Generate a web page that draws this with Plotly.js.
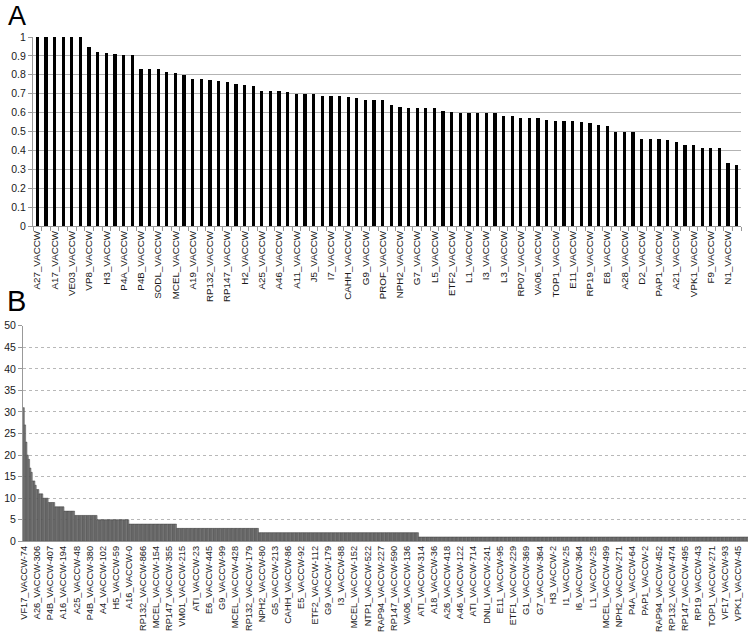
<!DOCTYPE html>
<html>
<head>
<meta charset="utf-8">
<script src="https://cdn.plot.ly/plotly-3.0.1.min.js"></script>
<style>html,body{margin:0;padding:0;background:#fff;}#chart{width:751px;height:635px;}</style>
</head>
<body>
<div id="chart"></div>
<script>
// Panel A: labels shown on every other bar
const labelsA = ["A27_VACCW","A17_VACCW","VE03_VACCW","VP8_VACCW","H3_VACCW","P4A_VACCW","P4B_VACCW","SODL_VACCW","MCEL_VACCW","A19_VACCW","RP132_VACCW","RP147_VACCW","H2_VACCW","A25_VACCW","A46_VACCW","A11_VACCW","J5_VACCW","I7_VACCW","CAHH_VACCW","G9_VACCW","PROF_VACCW","NPH2_VACCW","G7_VACCW","L5_VACCW","ETF2_VACCW","L1_VACCW","I3_VACCW","L3_VACCW","RP07_VACCW","VA06_VACCW","TOP1_VACCW","E11_VACCW","RP19_VACCW","E8_VACCW","A28_VACCW","D2_VACCW","PAP1_VACCW","A21_VACCW","VPK1_VACCW","F9_VACCW","N1_VACCW"];
const valuesA = [1,1,1,1,1,1,0.947,0.922,0.914,0.910,0.907,0.905,
  0.833,0.833,0.833,0.813,0.810,0.798,0.776,0.776,0.771,0.769,0.762,0.750,0.748,0.739,
  0.715,0.715,0.715,0.708,0.699,0.699,0.697,0.690,0.688,0.687,0.680,0.676,0.665,0.665,0.665,
  0.641,0.630,0.623,0.623,0.623,0.623,0.607,0.604,0.597,0.597,0.597,0.597,0.597,
  0.583,0.583,0.570,0.570,0.570,0.563,0.558,0.555,0.555,0.548,0.544,0.535,0.528,
  0.498,0.498,0.498,0.460,0.460,0.460,0.456,0.442,0.428,0.428,0.415,0.415,0.412,0.331,0.324];

// Panel B: labels shown on every 10th bar
const labelsB = ["VF17_VACCW-74","A26_VACCW-306","P4B_VACCW-407","A16_VACCW-194","A25_VACCW-48","P4B_VACCW-380","A4_VACCW-102","H5_VACCW-59","A16_VACCW-0","RP132_VACCW-866","MCEL_VACCW-154","RP147_VACCW-355","VM01_VACCW-215","ATI_VACCW-23","E6_VACCW-445","G9_VACCW-99","MCEL_VACCW-428","RP132_VACCW-179","NPH2_VACCW-80","G5_VACCW-213","CAHH_VACCW-86","E5_VACCW-92","ETF2_VACCW-112","G9_VACCW-179","I3_VACCW-88","MCEL_VACCW-152","NTP1_VACCW-522","RAP94_VACCW-227","RP147_VACCW-590","VA06_VACCW-136","ATI_VACCW-314","A18_VACCW-36","A26_VACCW-418","A46_VACCW-122","ATI_VACCW-714","DNLI_VACCW-241","E11_VACCW-95","ETF1_VACCW-229","G1_VACCW-369","G7_VACCW-364","H3_VACCW-2","I1_VACCW-25","I6_VACCW-364","L1_VACCW-25","MCEL_VACCW-499","NPH2_VACCW-271","P4A_VACCW-64","PAP1_VACCW-2","RAP94_VACCW-452","RP132_VACCW-474","RP147_VACCW-495","RP19_VACCW-43","TOP1_VACCW-271","VF17_VACCW-93","VPK1_VACCW-45"];
// values of B read as runs of equal bars (value, number of bars)
const levelsB = [31,27,23,20,19,17,16,14,13,12,11,10,9,8,7,6,5,4,3,2,1];
const runsB   = [1,1,1,1,1,1,1,2,1,2,3,4,5,7,8,17,24,36,62,121,249];
const labelStepB = 10;

const valuesB = [];
levelsB.forEach((v, k) => { for (let j = 0; j < runsB[k]; j++) valuesB.push(v); });
const xA = valuesA.map((_, i) => i);
const xB = valuesB.map((_, i) => i);
const tickA = labelsA.map((_, i) => i * 2);
const tickB = labelsB.map((_, i) => i * labelStepB);

const W = 751, H = 635;
const font = "Liberation Sans, Arial, sans-serif";

const traces = [
  {type: 'bar', x: xA, y: valuesA, xaxis: 'x', yaxis: 'y', width: 0.38,
   marker: {color: '#000000', line: {width: 0}}, hoverinfo: 'none'},
  {type: 'bar', x: xB, y: valuesB, xaxis: 'x2', yaxis: 'y2', width: 1,
   marker: {color: '#8f8f8f', line: {color: '#2e2e2e', width: 0.45}}, hoverinfo: 'none'}
];

const layout = {
  width: W, height: H,
  margin: {l: 0, r: 0, t: 0, b: 0},
  paper_bgcolor: '#ffffff', plot_bgcolor: '#ffffff',
  showlegend: false, bargap: 0,
  font: {family: font, color: '#222', size: 10},
  xaxis: {domain: [33/W, 741/W], range: [-0.5, valuesA.length - 0.5], anchor: 'y',
    tickmode: 'array', tickvals: tickA, ticktext: labelsA, tickangle: -90,
    tickfont: {size: 9.8, family: font, color: '#1a1a1a'},
    showline: true, linecolor: '#999', linewidth: 1, ticks: '', showgrid: false, zeroline: false,
    minor: {ticks: 'outside', ticklen: 4, tickcolor: '#999', tick0: -0.5, dtick: 1, showgrid: false}},
  yaxis: {domain: [(H-226)/H, (H-37)/H], range: [0, 1], dtick: 0.1, anchor: 'x',
    tickfont: {size: 10.5, family: font, color: '#1a1a1a'},
    showline: true, linecolor: '#999', ticks: 'outside', ticklen: 4, tickcolor: '#999',
    showgrid: true, gridcolor: '#b3b3b3', gridwidth: 1, zeroline: false},
  xaxis2: {domain: [23/W, 748/W], range: [-0.5, valuesB.length - 0.5], anchor: 'y2',
    tickmode: 'array', tickvals: tickB, ticktext: labelsB, tickangle: -90,
    tickfont: {size: 9.2, family: font, color: '#1a1a1a'},
    showline: true, linecolor: '#999', ticks: '', showgrid: false, zeroline: false},
  yaxis2: {domain: [(H-541.3)/H, (H-325.7)/H], range: [0, 50], dtick: 5, anchor: 'x2',
    tickfont: {size: 10.5, family: font, color: '#1a1a1a'},
    showline: true, linecolor: '#999', ticks: 'outside', ticklen: 4, tickcolor: '#999',
    showgrid: true, gridcolor: '#b8b8b8', griddash: 'dot', gridwidth: 1, zeroline: false},
  annotations: [
    {text: 'A', xref: 'paper', yref: 'paper', x: 7/W, y: 1, xanchor: 'left', yanchor: 'top',
     borderpad: 0, showarrow: false, font: {size: 27, family: font, color: '#000'}},
    {text: 'B', xref: 'paper', yref: 'paper', x: 5/W, y: 1 - 301/H, xanchor: 'left', yanchor: 'middle',
     showarrow: false, font: {size: 29, family: font, color: '#000'}}
  ]
};

Plotly.newPlot('chart', traces, layout, {staticPlot: true, displayModeBar: false});
</script>
</body>
</html>
